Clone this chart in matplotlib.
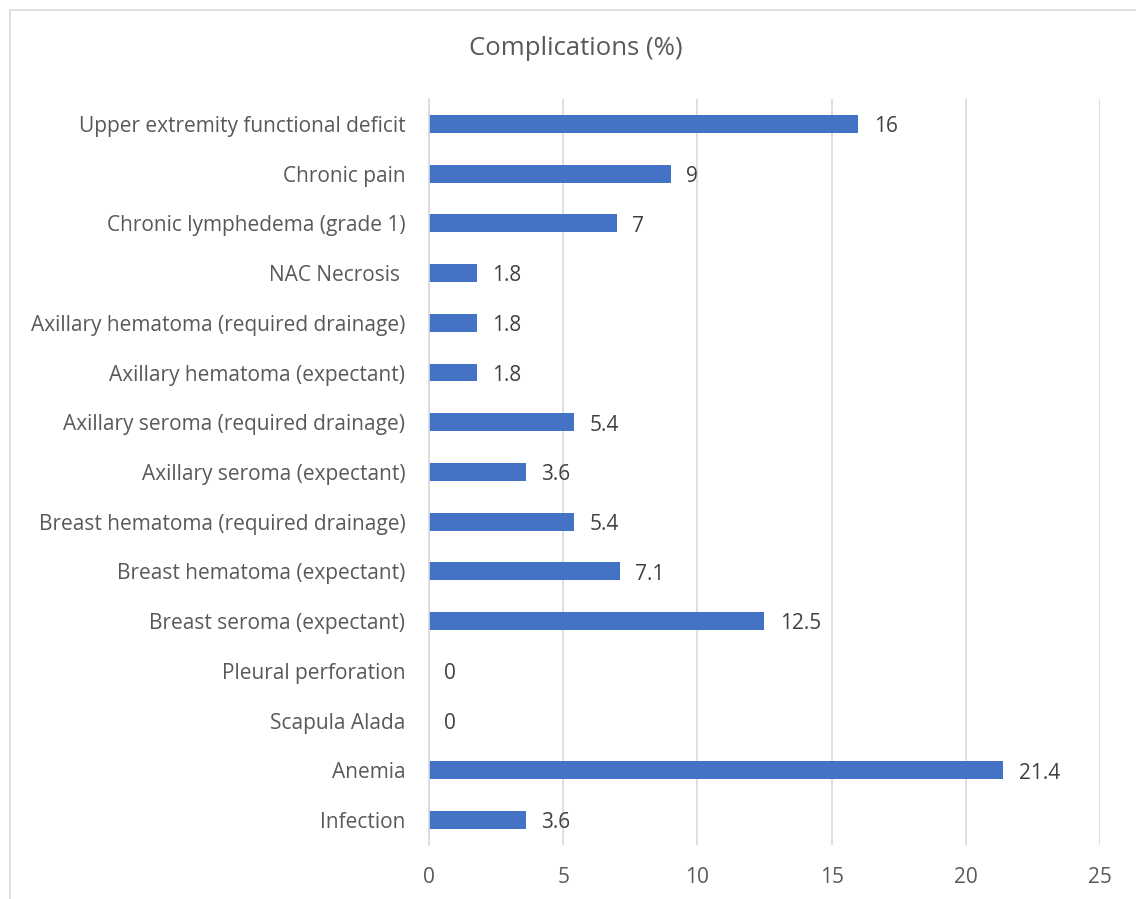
import matplotlib.pyplot as plt
from matplotlib.patches import Rectangle

# данные (снизу вверх)
categories = ['Infection', 'Anemia', 'Scapula Alada', 'Pleural perforation',
              'Breast seroma (expectant)', 'Breast hematoma (expectant)',
              'Breast hematoma (required drainage)', 'Axillary seroma (expectant)',
              'Axillary seroma (required drainage)', 'Axillary hematoma (expectant)',
              'Axillary hematoma (required drainage)', 'NAC Necrosis ',
              'Chronic lymphedema (grade 1)', 'Chronic pain',
              'Upper extremity functional deficit']
values = [3.6, 21.4, 0, 0, 12.5, 7.1, 5.4, 3.6, 5.4, 1.8, 1.8, 1.8, 7, 9, 16]
value_labels = ['3.6', '21.4', '0', '0', '12.5', '7.1', '5.4', '3.6', '5.4',
                '1.8', '1.8', '1.8', '7', '9', '16']
xticks = [0, 5, 10, 15, 20, 25]

txt = '#595959'
plt.rcParams['font.family'] = ['Open Sans', 'DejaVu Sans']

fig = plt.figure(figsize=(11.36, 8.99), dpi=100)
ax = fig.add_axes([0.3776, 0.0601, 0.5907, 0.8298])

bars = ax.barh(range(len(values)), values, height=0.36, color='#4472C4')
anns = ax.bar_label(bars, labels=value_labels, padding=11, fontsize=15, color='#404040')
# подписи чуть ниже центра столбца
for a in anns:
    a.xyann = (11, -2)

ax.set_ylim(-0.5, len(values) - 0.5)
ax.set_xlim(0, 25)
ax.set_yticks(range(len(values)))
ax.set_yticklabels(categories, fontsize=15, color=txt)
ax.set_xticks(xticks)
ax.set_xticklabels([str(t) for t in xticks], fontsize=15, color=txt)
ax.tick_params(axis='y', length=0, pad=17)
ax.tick_params(axis='x', length=0, pad=16)

ax.grid(axis='x', color='#D9D9D9', linewidth=1.2)
ax.set_axisbelow(True)
for s in ['top', 'right', 'bottom']:
    ax.spines[s].set_visible(False)
ax.spines['left'].set_color('#D9D9D9')
ax.spines['left'].set_linewidth(1.2)

fig.text(0.507, 0.946, 'Complications (%)', ha='center', va='center',
         fontsize=18.5, color=txt)

# рамка диаграммы
fig.patches.append(Rectangle((10 / 1136, -0.01), 1.02, 1 - 10 / 899 + 0.01,
                             transform=fig.transFigure, fill=False,
                             edgecolor='#D9D9D9', linewidth=1.2))

fig.savefig('out.png', dpi=100)
